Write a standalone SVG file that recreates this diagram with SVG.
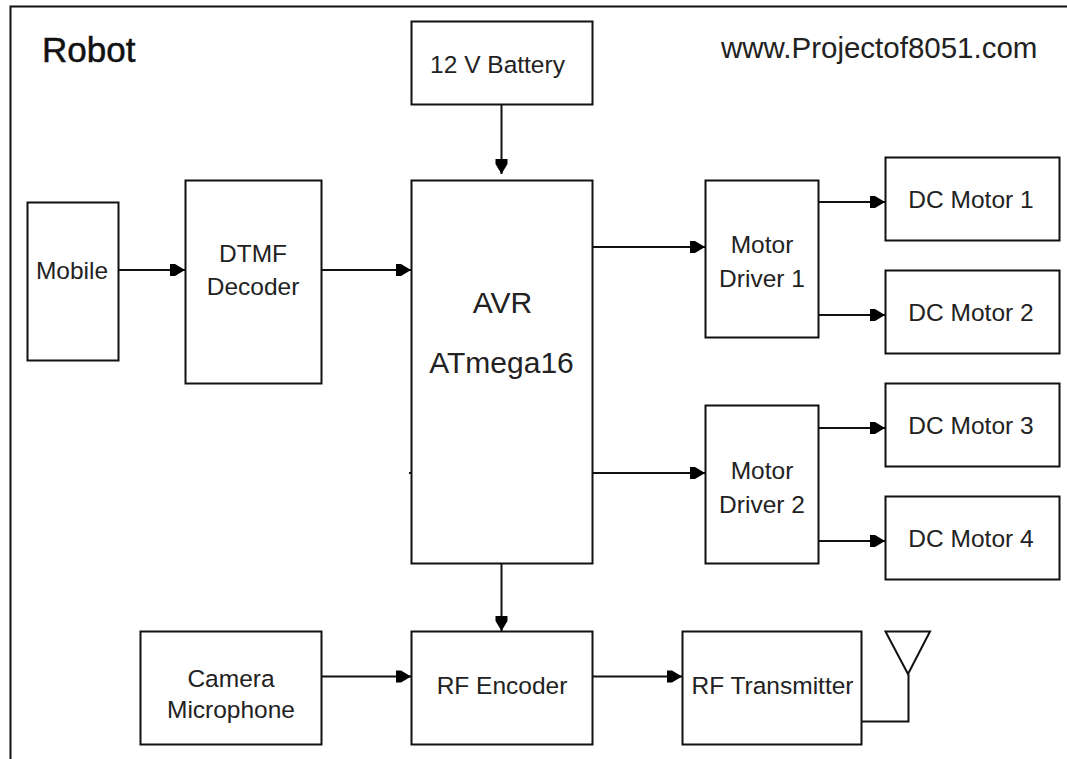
<svg xmlns="http://www.w3.org/2000/svg" width="1067" height="759" viewBox="0 0 1067 759">
<defs>
<marker id="arrow" markerUnits="userSpaceOnUse" markerWidth="16" markerHeight="14" refX="15" refY="7" orient="auto"><path d="M0 1 L5 1 L15 7 L5 13 L0 13 Z" fill="#000"/></marker>
</defs>
<style>
.box{fill:#fff;stroke:#111;stroke-width:2}
.wire{fill:none;stroke:#111;stroke-width:2}
.arr{marker-end:url(#arrow)}
text{font-family:"Liberation Sans",Arial,sans-serif;font-size:24.500px;fill:#222;text-anchor:middle}
.big{font-size:30px}
</style>
<rect width="1067" height="759" fill="#fff"/>
<path class="wire" d="M10.500 759V6.500H1067"/>
<text x="42" y="62" style="font-size:35px;text-anchor:start;fill:#111;stroke:#111;stroke-width:.5">Robot</text>
<text x="721" y="58" style="font-size:29.500px;text-anchor:start">www.Projectof8051.com</text>
<g id="battery"><rect class="box" x="411.500" y="21.500" width="181" height="83"/><text x="497.500" y="73">12 V Battery</text></g>
<g id="mobile"><rect class="box" x="27.500" y="202.500" width="91" height="158"/><text x="72" y="278.500">Mobile</text></g>
<g id="dtmf"><rect class="box" x="185.500" y="180.500" width="136" height="203"/><text x="253" y="262">DTMF</text><text x="253" y="295">Decoder</text></g>
<g id="avr"><rect class="box" x="411.500" y="180.500" width="181" height="383"/><text x="502.500" y="313" class="big">AVR</text><text x="501.500" y="373" class="big">ATmega16</text></g>
<g id="driver1"><rect class="box" x="705.500" y="180.500" width="113" height="157"/><text x="762" y="252.500">Motor</text><text x="762" y="286.500">Driver 1</text></g>
<g id="driver2"><rect class="box" x="705.500" y="405.500" width="113" height="158"/><text x="762" y="479">Motor</text><text x="762" y="513">Driver 2</text></g>
<g id="motor1"><rect class="box" x="885.500" y="157.500" width="174" height="83"/><text x="971" y="208">DC Motor 1</text></g>
<g id="motor2"><rect class="box" x="885.500" y="270.500" width="174" height="83"/><text x="971" y="321">DC Motor 2</text></g>
<g id="motor3"><rect class="box" x="885.500" y="383.500" width="174" height="83"/><text x="971" y="434">DC Motor 3</text></g>
<g id="motor4"><rect class="box" x="885.500" y="496.500" width="174" height="83"/><text x="971" y="547">DC Motor 4</text></g>
<g id="camera"><rect class="box" x="140.500" y="631.500" width="181" height="113"/><text x="231" y="687">Camera</text><text x="231" y="718">Microphone</text></g>
<g id="encoder"><rect class="box" x="411.500" y="631.500" width="181" height="113"/><text x="502" y="694">RF Encoder</text></g>
<g id="transmitter"><rect class="box" x="682.500" y="631.500" width="179" height="113"/><text x="772.500" y="694">RF Transmitter</text></g>
<g id="antenna"><path class="wire" d="M885.500 631.500H930L908 674Z"/></g>
<g id="connectors">
<path class="wire arr" d="M119 270H185"/>
<path class="wire arr" d="M322 270H411"/>
<path class="wire arr" d="M501.500 105V174"/>
<path class="wire arr" d="M593 247H705"/>
<path class="wire arr" d="M593 473H705"/>
<path class="wire arr" d="M819 202H885"/>
<path class="wire arr" d="M819 315H885"/>
<path class="wire arr" d="M819 428H885"/>
<path class="wire arr" d="M819 541H885"/>
<path class="wire arr" d="M501.500 564V631"/>
<path class="wire arr" d="M322 676.500H411"/>
<path class="wire arr" d="M593 676.500H682"/>
<path class="wire" d="M862 721.500H908.500V674"/>
<path class="wire" d="M409 473H412"/>
</g>
</svg>
